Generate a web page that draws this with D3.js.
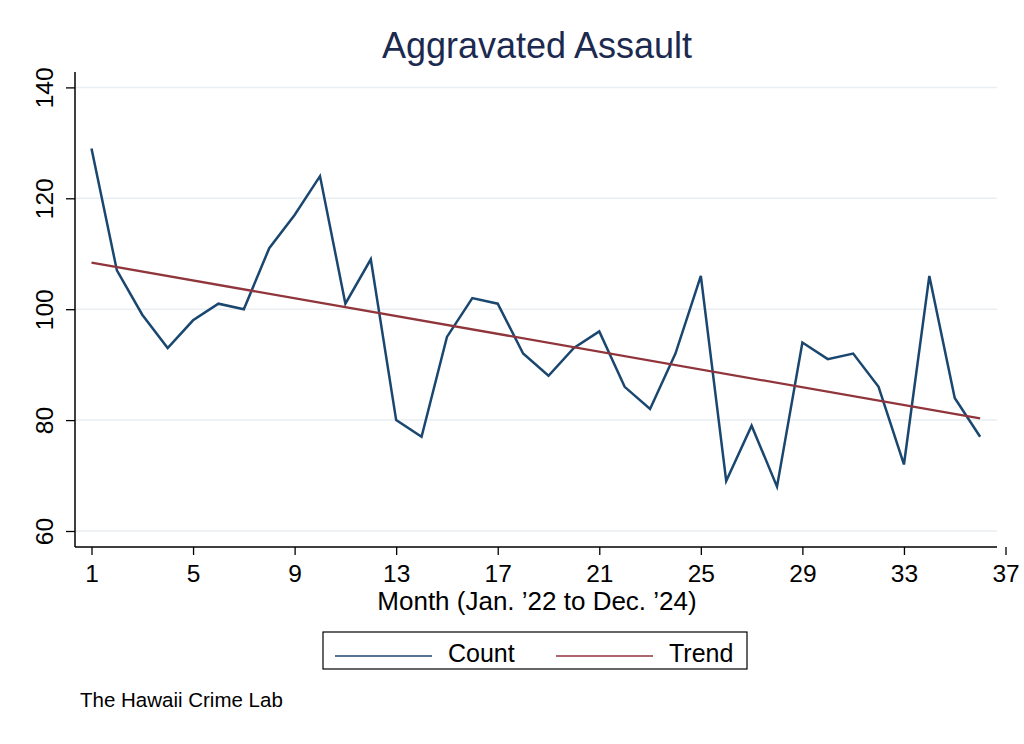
<!DOCTYPE html>
<html lang="en">
<head>
    <meta charset="UTF-8">
    <title>Aggravated Assault</title>
    <style>
        body {
            margin: 0;
            background: #fff;
            font-family: "Liberation Sans", Arial, sans-serif;
        }
        .grid line {
            stroke: #e9eef2;
            stroke-width: 1.5px;
        }
    </style>
</head>
<body>
    <div id="chart"></div>
    <script src="https://d3js.org/d3.v7.min.js"></script>
    <script>
        // Monthly counts, Jan '22 .. Dec '24
        const months = d3.range(1, 37);
        const counts = [129, 107, 99, 93, 98, 101, 100, 111, 117, 124, 101, 109,
                        80, 77, 95, 102, 101, 92, 88, 93, 96, 86, 82, 92,
                        106, 69, 79, 68, 94, 91, 92, 86, 72, 106, 84, 77];
        // Fitted trend, read at first and last month
        const trendMonths = [1, 36];
        const trendValues = [108.4, 80.3];
        const xTicks = [1, 5, 9, 13, 17, 21, 25, 29, 33, 37];
        const yTicks = [60, 80, 100, 120, 140];

        const W = 1024, H = 744;
        const navy = "#1a476f", maroon = "#90353b";

        const svg = d3.select("#chart").append("svg")
            .attr("width", W)
            .attr("height", H);

        // Plot region edges
        const plotLeft = 75, plotRight = 997, plotTop = 72, plotBottom = 547;

        const x = d3.scaleLinear().domain([1, 37]).range([91.5, 1005.5]);
        const y = d3.scaleLinear().domain([60, 140]).range([531, 87.4]);

        // Gridlines
        svg.append("g").attr("class", "grid")
            .selectAll("line")
            .data(yTicks)
            .enter().append("line")
            .attr("x1", plotLeft + 1).attr("x2", plotRight)
            .attr("y1", d => y(d)).attr("y2", d => y(d));

        // Axis lines
        svg.append("line")
            .attr("x1", plotLeft).attr("x2", plotLeft)
            .attr("y1", plotTop).attr("y2", plotBottom)
            .attr("stroke", "#000").attr("stroke-width", 1.5);
        svg.append("line")
            .attr("x1", plotLeft).attr("x2", plotRight)
            .attr("y1", plotBottom).attr("y2", plotBottom)
            .attr("stroke", "#000").attr("stroke-width", 1.5);

        // Y axis ticks and labels
        const yAxis = svg.append("g").attr("transform", `translate(${plotLeft},0)`)
            .call(d3.axisLeft(y).tickValues(yTicks).tickSize(9).tickFormat(d3.format("d")));
        yAxis.select(".domain").remove();
        yAxis.selectAll(".tick line").attr("stroke", "#000").attr("stroke-width", 1.3);
        yAxis.selectAll(".tick text")
            .attr("font-family", "Liberation Sans, Arial, sans-serif")
            .attr("font-size", 24.5)
            .attr("fill", "#000")
            .attr("x", null).attr("dy", null)
            .attr("text-anchor", "middle")
            .attr("transform", "translate(-22,0) rotate(-90)");

        // X axis ticks and labels
        const xAxis = svg.append("g").attr("transform", `translate(0,${plotBottom})`)
            .call(d3.axisBottom(x).tickValues(xTicks).tickSize(8).tickFormat(d3.format("d")));
        xAxis.select(".domain").remove();
        xAxis.selectAll(".tick line").attr("stroke", "#000").attr("stroke-width", 1.3);
        xAxis.selectAll(".tick text")
            .attr("font-family", "Liberation Sans, Arial, sans-serif")
            .attr("font-size", 24.5)
            .attr("fill", "#000")
            .attr("y", 35).attr("dy", null);

        // Count series
        const line = d3.line().x((d, i) => x(months[i])).y(d => y(d));
        svg.append("path")
            .datum(counts)
            .attr("d", line)
            .attr("fill", "none")
            .attr("stroke", navy)
            .attr("stroke-width", 2.5)
            .attr("stroke-linejoin", "miter");

        // Trend line
        const trendLine = d3.line().x((d, i) => x(trendMonths[i])).y(d => y(d));
        svg.append("path")
            .datum(trendValues)
            .attr("d", trendLine)
            .attr("fill", "none")
            .attr("stroke", maroon)
            .attr("stroke-width", 2.3);

        // Title
        svg.append("text")
            .attr("x", 537).attr("y", 58)
            .attr("text-anchor", "middle")
            .attr("font-size", 36)
            .attr("fill", "#1c2a4f")
            .text("Aggravated Assault");

        // Axis title
        svg.append("text")
            .attr("x", 537).attr("y", 610)
            .attr("text-anchor", "middle")
            .attr("font-size", 26)
            .attr("fill", "#000")
            .text("Month (Jan. \u201922 to Dec. \u201924)");

        // Legend
        const legend = svg.append("g");
        legend.append("rect")
            .attr("x", 323).attr("y", 632)
            .attr("width", 424).attr("height", 37)
            .attr("fill", "#fff")
            .attr("stroke", "#000").attr("stroke-width", 1.2);
        const items = [
            { label: "Count", color: navy, x0: 335 },
            { label: "Trend", color: maroon, x0: 556 }
        ];
        items.forEach(it => {
            legend.append("line")
                .attr("x1", it.x0).attr("x2", it.x0 + 97)
                .attr("y1", 656).attr("y2", 656)
                .attr("stroke", it.color).attr("stroke-width", 1.6);
            legend.append("text")
                .attr("x", it.x0 + 113).attr("y", 662)
                .attr("font-size", 25)
                .attr("fill", "#000")
                .text(it.label);
        });

        // Footer
        svg.append("text")
            .attr("x", 80).attr("y", 707)
            .attr("font-size", 20.5)
            .attr("fill", "#000")
            .text("The Hawaii Crime Lab");
    </script>
</body>
</html>
